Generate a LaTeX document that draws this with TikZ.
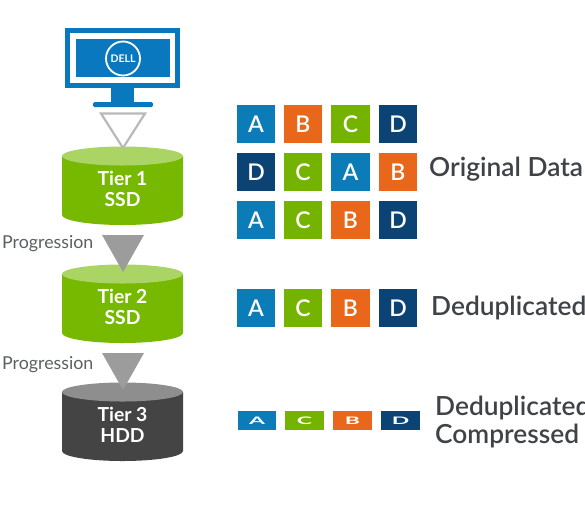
\documentclass[tikz,border=0pt]{standalone}
\usepackage{fontspec}
\setmainfont{Lato}
\newfontfamily\medfont{Lato Semibold}
\definecolor{dellblue}{HTML}{0B7CB8}
\definecolor{monblue}{HTML}{0A78BE}
\definecolor{tileorange}{HTML}{E9671B}
\definecolor{tilegreen}{HTML}{74B400}
\definecolor{tilenavy}{HTML}{0B4374}
\definecolor{cylgreen}{HTML}{76B900}
\definecolor{cyltop}{HTML}{AAD564}
\definecolor{cyldark}{HTML}{444444}
\definecolor{cylgrey}{HTML}{8E8E8E}
\definecolor{arrowgrey}{HTML}{9C9C9C}
\definecolor{outlinegrey}{HTML}{B9B9B9}
\definecolor{textdark}{HTML}{3F4347}
\tikzset{
  tile/.style={minimum width=38.5pt,minimum height=38pt,inner sep=0pt,text=white,font=\medfont\fontsize{23}{23}\selectfont},
  flat/.style={minimum width=38.5pt,minimum height=19pt,inner sep=0pt,text=white,font=\bfseries\fontsize{23}{23}\selectfont},
  caption/.style={anchor=base west,inner sep=0pt,text=textdark,font=\medfont\fontsize{26.3}{26.3}\selectfont},
  progress/.style={anchor=base west,inner sep=0pt,text=textdark!85,font=\fontsize{17.8}{17.8}\selectfont},
  tierlabel/.style={align=center,inner sep=0pt,text=white,font=\bfseries\fontsize{19.3}{20.5}\selectfont},
}
\newcommand{\cylinder}[5]{% name, center y of top, body, top colour, label
  \fill[#3] (62,#2) -- (62,#2+59) arc[start angle=180,end angle=0,x radius=60.5,y radius=10] -- (183,#2) -- cycle;
  \fill[#4] (122.5,#2) ellipse[x radius=60.5,y radius=9.5];
  \node[tierlabel] (#1) at (122.5,#2+33) {#5};
}
\begin{document}
\begin{tikzpicture}[x=1pt,y=-1pt]
\useasboundingbox (0,0) rectangle (585,517);
\clip (0,0) rectangle (585,517);
% monitor
\fill[monblue] (65,28) rectangle (180,88);
\fill[white] (70,33) rectangle (175,83);
\fill[monblue] (76,39) rectangle (170,77);
\fill[monblue] (111,88) rectangle (134,103);
\fill[monblue,rounded corners=1.5pt] (93,102) rectangle (153,107);
\node[circle,draw=white,line width=1.8pt,minimum size=34pt,inner sep=0pt,text=white,font=\bfseries\fontsize{10.5}{10.5}\selectfont] (logo) at (123,58.5) {DELL};
% cylinders
\cylinder{tierone}{156}{cylgreen}{cyltop}{Tier 1\\SSD}
\cylinder{tiertwo}{274}{cylgreen}{cyltop}{Tier 2\\SSD}
\cylinder{tierthree}{392}{cyldark}{cylgrey}{Tier 3\\HDD}
% triangles
\draw[outlinegrey,line width=2.2pt,line join=miter,fill=white] (101,113.5) -- (145,113.5) -- (123,148) -- cycle;
\fill[arrowgrey] (102,235) -- (144,235) -- (123,272) -- cycle;
\fill[arrowgrey] (102,353) -- (144,353) -- (123,390) -- cycle;
\node[progress] (progone) at (2,248.5) {Progression};
\node[progress] (progtwo) at (2,369.5) {Progression};
% rows
\node[tile,fill=dellblue] (r1a) at (256,124) {A};
\node[tile,fill=tileorange] (r1b) at (303,124) {B};
\node[tile,fill=tilegreen] (r1c) at (350.5,124) {C};
\node[tile,fill=tilenavy] (r1d) at (398,124) {D};
\node[tile,fill=tilenavy] (r2a) at (256,172) {D};
\node[tile,fill=tilegreen] (r2b) at (303,172) {C};
\node[tile,fill=dellblue] (r2c) at (350.5,172) {A};
\node[tile,fill=tileorange] (r2d) at (398,172) {B};
\node[tile,fill=dellblue] (r3a) at (256,220) {A};
\node[tile,fill=tilegreen] (r3b) at (303,220) {C};
\node[tile,fill=tileorange] (r3c) at (350.5,220) {B};
\node[tile,fill=tilenavy] (r3d) at (398,220) {D};
\node[tile,fill=dellblue] (r4a) at (256,308) {A};
\node[tile,fill=tilegreen] (r4b) at (303,308) {C};
\node[tile,fill=tileorange] (r4c) at (350.5,308) {B};
\node[tile,fill=tilenavy] (r4d) at (398,308) {D};
\node[flat,fill=dellblue] (r5a) at (257,420.5) {\scalebox{1}[0.45]{A}};
\node[flat,fill=tilegreen] (r5b) at (304.5,420.5) {\scalebox{1}[0.45]{C}};
\node[flat,fill=tileorange] (r5c) at (352.5,420.5) {\scalebox{1}[0.45]{B}};
\node[flat,fill=tilenavy] (r5d) at (400.5,420.5) {\scalebox{1}[0.45]{D}};
% captions
\node[caption] (capa) at (429,176) {Original Data};
\node[caption] (capb) at (431,315.5) {Deduplicated};
\node[caption] (capc) at (435,415) {Deduplicated};
\node[caption] (capd) at (435,443) {Compressed};
\end{tikzpicture}
\end{document}
